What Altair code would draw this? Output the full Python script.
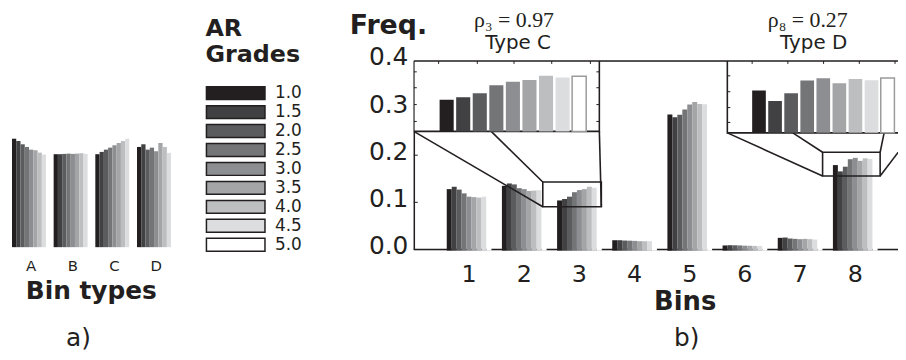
import altair as alt
import pandas as pd

INK = "#231f20"
SANS = "DejaVu Sans"
SERIF = "Liberation Serif"

# ---------------- data ----------------
grades = ["1.0", "1.5", "2.0", "2.5", "3.0", "3.5", "4.0", "4.5", "5.0"]
palette = ["#231f20", "#414042", "#5b5c5e", "#747577", "#8d8e91",
           "#a3a5a7", "#bcbec0", "#dcdddf", "#ffffff"]

bins = ["1", "2", "3", "4", "5", "6", "7", "8"]
freq_bin1 = [0.128, 0.133, 0.127, 0.119, 0.112, 0.111, 0.110, 0.112, 0.111]
freq_bin2 = [0.135, 0.140, 0.138, 0.130, 0.128, 0.124, 0.125, 0.126, 0.126]
freq_bin3 = [0.104, 0.107, 0.112, 0.1215, 0.126, 0.128, 0.133, 0.131, 0.1325]
freq_bin4 = [0.0196, 0.0196, 0.0189, 0.0186, 0.0182, 0.0175, 0.0175, 0.0175, 0.0175]
freq_bin5 = [0.2863, 0.2807, 0.2857, 0.2968, 0.3074, 0.313, 0.3088, 0.308, 0.308]
freq_bin6 = [0.0085, 0.009, 0.0088, 0.0085, 0.008, 0.0078, 0.0075, 0.0075, 0.0075]
freq_bin7 = [0.0246, 0.0253, 0.0232, 0.0225, 0.0218, 0.0225, 0.0218, 0.021, 0.021]
freq_bin8 = [0.179, 0.1656, 0.1756, 0.1915, 0.1944, 0.188, 0.1933, 0.192, 0.1948]

bin_types = ["A", "B", "C", "D"]
type_A = [109.3, 107.0, 103.7, 101.0, 98.3, 97.7, 95.3, 93.3, 92.0]
type_B = [93.7, 93.7, 94.0, 94.3, 94.0, 94.3, 94.7, 94.0, 94.0]
type_C = [93.7, 96.0, 98.3, 100.3, 102.7, 105.0, 107.0, 109.3, 110.0]
type_D = [101.0, 103.7, 98.3, 100.3, 96.7, 105.0, 101.0, 95.0, 99.0]

y_ticks = [0.0, 0.1, 0.2, 0.3, 0.4]
inner_ticks = [0.1, 0.2, 0.3]

# ---------------- tables ----------------
main_rows = []
for b, vals in zip(bins, [freq_bin1, freq_bin2, freq_bin3, freq_bin4,
                          freq_bin5, freq_bin6, freq_bin7, freq_bin8]):
    for g, v in zip(grades, vals):
        main_rows.append({"bin": b, "grade": g, "freq": v})
main_df = pd.DataFrame(main_rows)

a_rows = []
for t, vals in zip(bin_types, [type_A, type_B, type_C, type_D]):
    for g, v in zip(grades, vals):
        a_rows.append({"type": t, "grade": g, "h": v})
a_df = pd.DataFrame(a_rows)

legend_df = pd.DataFrame({"grade": grades})

# ---------------- layout (plot-area pixels) ----------------
W, H = 488, 190
insetC = dict(x0=0, x1=187, y0=0, y1=71)
zoomC = dict(x0=130, x1=189, y0=122, y1=147)
insetD = dict(x0=316, x1=503, y0=0, y1=72.5)
zoomD = dict(x0=412, x1=470, y0=92, y1=116)

segs = [
    (insetC["x0"], insetC["y1"], zoomC["x0"], zoomC["y1"]),
    (78, insetC["y1"], zoomC["x0"], zoomC["y0"]),
    (insetC["x1"], insetC["y1"], zoomC["x1"], zoomC["y1"]),
    (insetD["x0"], insetD["y1"], zoomD["x0"], zoomD["y1"]),
    (382, insetD["y1"], zoomD["x0"], zoomD["y0"]),
    (474, insetD["y1"], zoomD["x1"], zoomD["y0"]),
    (insetD["x1"], insetD["y1"], zoomD["x1"], zoomD["y1"]),
]
seg_df = pd.DataFrame(segs, columns=["x", "y", "x2", "y2"])

tick_rows = []
for inset, ys, xs in [(insetC, [11, 27, 44, 61], [25, 64, 101, 139, 178]),
                      (insetD, [15, 31, 47, 62], [341, 377, 413, 449, 485])]:
    for yy in ys:
        tick_rows.append((inset["x0"], yy, inset["x0"] + 3, yy))
        tick_rows.append((inset["x1"], yy, inset["x1"] - 3, yy))
    for xx in xs:
        tick_rows.append((xx, inset["y0"], xx, inset["y0"] + 3))
tick_df = pd.DataFrame(tick_rows, columns=["x", "y", "x2", "y2"])

frame_df = pd.DataFrame([insetC, insetD])
zoom_df = pd.DataFrame([zoomC, zoomD])

color_scale = alt.Scale(domain=grades, range=palette)
LEG_X0, LEG_X1 = -209, -150          # swatch left / right
LEG_RANGE = [22.9, 194.8]            # vertical band range of the legend rows

# ---------------- layers ----------------
baseline = alt.Chart(pd.DataFrame({"k": [0]})).mark_rule(
    color=INK, strokeWidth=1.5).encode(y=alt.value(H))

main = alt.Chart(main_df).mark_bar().encode(
    x=alt.X("bin:O",
            scale=alt.Scale(paddingInner=0.19, paddingOuter=0.4835, align=0.6175),
            axis=alt.Axis(orient="bottom", title="Bins", domain=False, ticks=False,
                          labelAngle=0, labelFontSize=24, labelPadding=13,
                          labelColor=INK, labelFont=SANS,
                          titleFontSize=26, titleFontWeight="bold", titleColor=INK,
                          titleFont=SANS, titleX=273, titleY=61,
                          titleBaseline="alphabetic", titleAlign="center")),
    xOffset=alt.XOffset("grade:N", scale=alt.Scale(paddingInner=0, paddingOuter=0)),
    y=alt.Y("freq:Q", scale=alt.Scale(domain=[0, 0.4]), stack=None,
            axis=alt.Axis(orient="left", values=y_ticks, format=".1f", ticks=False,
                          grid=False, domainColor=INK, domainWidth=1.5,
                          labelFontSize=25, labelPadding=6, labelOffset=-4,
                          labelColor=INK, labelFont=SANS, labelFlush=False,
                          title="Freq.", titleAngle=0, titleAlign="left",
                          titleBaseline="alphabetic", titleX=-65, titleY=-28,
                          titleFontSize=27, titleFontWeight="bold",
                          titleColor=INK, titleFont=SANS)),
    y2=alt.datum(-0.0025),
    fill=alt.Fill("grade:N", scale=color_scale, legend=None),
)

top_rule = alt.Chart(pd.DataFrame({"k": [0]})).mark_rule(
    color=INK, strokeWidth=1.5).encode(y=alt.value(0))

yticks_in = alt.Chart(pd.DataFrame({"v": inner_ticks})).mark_rule(
    color=INK, strokeWidth=1).encode(
    y=alt.Y("v:Q", scale=alt.Scale(domain=[0, 0.4]), axis=None),
    x=alt.value(0), x2=alt.value(4))

zoom_boxes = alt.Chart(zoom_df).mark_rect(
    fill="transparent", stroke=INK, strokeWidth=1.6, clip=True).encode(
    x=alt.X("x0:Q", scale=None), x2="x1",
    y=alt.Y("y0:Q", scale=None), y2="y1")

connectors = alt.Chart(seg_df).mark_rule(
    color=INK, strokeWidth=1.6, clip=True).encode(
    x=alt.X("x:Q", scale=None), y=alt.Y("y:Q", scale=None), x2="x2", y2="y2")

frames = alt.Chart(frame_df).mark_rect(
    fill="white", stroke=INK, strokeWidth=1.6, clip=True).encode(
    x=alt.X("x0:Q", scale=None), x2="x1",
    y=alt.Y("y0:Q", scale=None), y2="y1")

inset_ticks = alt.Chart(tick_df).mark_rule(
    color=INK, strokeWidth=1, clip=True).encode(
    x=alt.X("x:Q", scale=None), y=alt.Y("y:Q", scale=None), x2="x2", y2="y2")


def inset_bars(bin_id, xr, ydom, h):
    return alt.Chart(main_df).transform_filter(alt.datum.bin == bin_id).mark_bar(
        strokeWidth=1.5, clip=True).encode(
        x=alt.X("grade:N", scale=alt.Scale(range=xr, paddingInner=0.15,
                                           paddingOuter=0.075), axis=None),
        y=alt.Y("freq:Q", scale=alt.Scale(domain=ydom, range=[h, 0], zero=False,
                                          nice=False), axis=None, stack=None),
        y2=alt.value(h),
        fill=alt.Fill("grade:N", scale=color_scale, legend=None),
        stroke=alt.condition(alt.datum.grade == "5.0", alt.value("#9b9b9b"),
                             alt.value("transparent")),
    )


inset_c = inset_bars("3", [24.75, 175.0], [0.0657, 0.1511], insetC["y1"])
inset_d = inset_bars("8", [339.8, 485.6], [0.1256, 0.2162], insetD["y1"])

panel_a = alt.Chart(a_df).mark_bar().encode(
    x=alt.X("type:N", scale=alt.Scale(range=[-405, -240.3], paddingInner=0.079,
                                      paddingOuter=0),
            axis=alt.Axis(orient="bottom", title="Bin types", domain=False,
                          ticks=False, labelAngle=0, labelFontSize=15,
                          labelPadding=9, labelColor=INK, labelFont=SANS,
                          titleFontSize=25, titleFontWeight="bold", titleColor=INK,
                          titleFont=SANS, titleX=-325.5, titleY=49,
                          titleBaseline="alphabetic", titleAlign="center")),
    xOffset=alt.XOffset("grade:N", scale=alt.Scale(paddingInner=0, paddingOuter=0)),
    y=alt.Y("h:Q", scale=alt.Scale(domain=[0, 110], range=[187.7, 77.7]),
            axis=None, stack=None),
    fill=alt.Fill("grade:N", scale=color_scale, legend=None),
)

# legend of AR grades, built from the grade list
legend_y = alt.Scale(range=LEG_RANGE, paddingInner=0.32, paddingOuter=0.16)
leg_swatch = alt.Chart(legend_df).mark_rect(stroke=INK, strokeWidth=1.5).encode(
    y=alt.Y("grade:N", scale=legend_y, axis=None),
    x=alt.value(LEG_X0), x2=alt.value(LEG_X1),
    fill=alt.Fill("grade:N", scale=color_scale, legend=None),
)
leg_text = alt.Chart(legend_df).mark_text(
    font=SANS, fontSize=17, color=INK, align="left", baseline="middle").encode(
    y=alt.Y("grade:N", scale=legend_y, axis=None),
    x=alt.value(LEG_X1 + 10), text="grade:N",
)


def label(text, x, y, size, font=SANS, weight="normal", align="center",
          baseline="middle"):
    return alt.Chart(pd.DataFrame({"t": [text]})).mark_text(
        font=font, fontSize=size, fontWeight=weight, color=INK,
        align=align, baseline=baseline).encode(
        x=alt.value(x), y=alt.value(y), text="t:N")


texts = [
    label("AR", -210, -25, 24, weight="bold", align="left", baseline="alphabetic"),
    label("Grades", -210, 1, 24, weight="bold", align="left", baseline="alphabetic"),
    label("ρ₃ = 0.97", 101, -41, 22, font=SERIF),
    label("Type C", 105, -18, 20),
    label("ρ₈ = 0.27", 397, -41, 22, font=SERIF),
    label("Type D", 403, -18, 20),
    label("a)", -338, 279, 25),
    label("b)", 275, 279, 25),
]

chart = alt.layer(
    baseline, main, top_rule, yticks_in, zoom_boxes, connectors, frames,
    inset_ticks, inset_c, inset_d, panel_a, leg_swatch, leg_text, *texts
).resolve_scale(
    x="independent", y="independent", xOffset="independent"
).properties(
    width=W, height=H,
    autosize=alt.AutoSizeParams(type="none"),
    padding={"left": 409, "top": 52, "right": 0, "bottom": 102},
    background="white",
).configure_view(stroke=None).configure(font=SANS)

chart.save("out.html", embed_options={"renderer": "svg", "actions": False})
